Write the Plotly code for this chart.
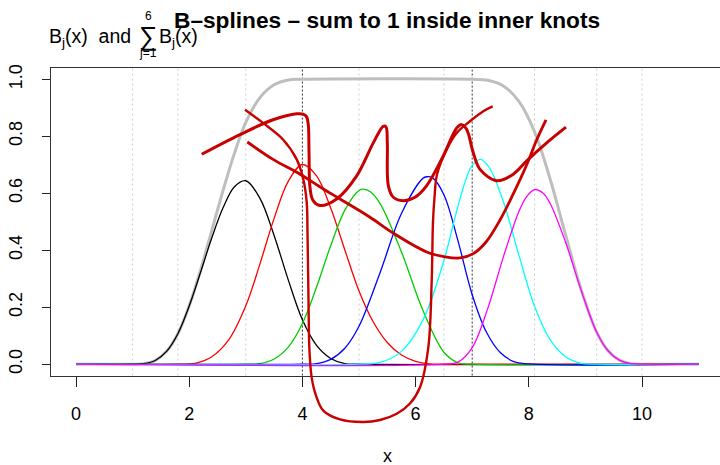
import plotly.graph_objects as go

W, H = 720, 465
FONT = "Liberation Sans, Arial, Helvetica, sans-serif"

# knot positions (inner knots marked in black)
knots = [1.0, 1.8, 3.0, 4.0, 5.0, 6.5, 7.0, 8.1, 9.2, 10.0]
inner_knots = [4.0, 7.0]

# cubic B-spline basis functions B1..B6
b1_x = [0, 1.0, 1.2, 1.4, 1.6, 1.8, 2.0, 2.2, 2.4, 2.6, 2.8, 3.0, 3.25, 3.5, 3.75, 4.0, 4.25, 4.5, 4.75, 5.0, 11]
b1_y = [0, 0, 0.002, 0.013, 0.045, 0.107, 0.204, 0.322, 0.444, 0.550, 0.623, 0.644, 0.582, 0.452, 0.296, 0.156, 0.066, 0.020, 0.002, 0, 0]

b2_x = [0, 1.8, 2.1, 2.4, 2.7, 3.0, 3.25, 3.5, 3.75, 4.0, 4.25, 4.5, 4.75, 5.0, 5.25, 5.5, 5.75, 6.0, 6.25, 6.5, 11]
b2_y = [0, 0, 0.003, 0.026, 0.086, 0.205, 0.352, 0.512, 0.642, 0.701, 0.661, 0.548, 0.401, 0.257, 0.149, 0.076, 0.032, 0.010, 0.001, 0, 0]

b3_x = [0, 3.0, 3.25, 3.5, 3.75, 4.0, 4.25, 4.5, 4.75, 5.0, 5.1, 5.2, 5.375, 5.75, 6.125, 6.5, 6.75, 7.0, 11]
b3_y = [0, 0, 0.002, 0.018, 0.060, 0.143, 0.271, 0.416, 0.541, 0.610, 0.614, 0.605, 0.563, 0.394, 0.191, 0.042, 0.005, 0, 0]

b4_x = [0, 4.0, 4.25, 4.5, 4.75, 5.0, 5.375, 5.75, 6.125, 6.2, 6.3, 6.5, 6.75, 7.0, 7.25, 7.5, 7.75, 8.1, 11]
b4_y = [0, 0, 0.002, 0.017, 0.056, 0.133, 0.323, 0.529, 0.652, 0.658, 0.654, 0.595, 0.432, 0.244, 0.113, 0.040, 0.008, 0, 0]

b5_x = [0, 5.0, 5.375, 5.75, 6.125, 6.5, 6.6, 6.75, 6.9, 7.0, 7.15, 7.3, 7.55, 7.825, 8.1, 8.375, 8.65, 8.925, 9.2, 11]
b5_y = [0, 0, 0.006, 0.045, 0.153, 0.363, 0.439, 0.556, 0.655, 0.698, 0.719, 0.691, 0.571, 0.383, 0.204, 0.086, 0.026, 0.003, 0, 0]

b6_x = [0, 6.5, 6.75, 7.0, 7.275, 7.55, 7.825, 7.95, 8.1, 8.25, 8.375, 8.65, 8.925, 9.2, 9.4, 9.6, 9.8, 10.0, 11]
b6_y = [0, 0, 0.007, 0.058, 0.196, 0.376, 0.536, 0.585, 0.613, 0.601, 0.565, 0.428, 0.259, 0.112, 0.047, 0.014, 0.002, 0, 0]

# sum of the six basis functions
sum_x = [0, 1.0, 1.2, 1.4, 1.6, 1.8, 2.0, 2.2, 2.4, 2.6, 2.8, 3.0, 3.25, 3.5, 3.75, 4.0,
         7.0, 7.275, 7.55, 7.825, 8.1, 8.375, 8.65, 8.925, 9.2, 9.4, 9.6, 9.8, 10.0, 11]
sum_y = [0, 0, 0.002, 0.013, 0.045, 0.107, 0.205, 0.330, 0.470, 0.611, 0.741, 0.849, 0.936, 0.981, 0.998, 1.0,
         1.0, 0.997, 0.977, 0.923, 0.817, 0.651, 0.454, 0.262, 0.112, 0.047, 0.014, 0.002, 0, 0]

# freehand strokes drawn over the basis
stroke_a_x = [2.221, 2.898, 3.481, 3.899, 4.011, 4.072, 4.104, 4.117, 4.134, 4.187, 4.311, 4.606, 4.959,
              5.253, 5.429, 5.477, 5.500, 5.518, 5.606, 5.783, 5.989, 6.196, 6.489, 6.726, 6.814, 6.903,
              7.019, 7.138, 7.433, 7.726, 7.963, 8.316, 8.657]
stroke_a_y = [0.737, 0.806, 0.858, 0.879, 0.878, 0.869, 0.840, 0.742, 0.621, 0.575, 0.557, 0.580, 0.661,
              0.777, 0.835, 0.833, 0.777, 0.627, 0.586, 0.574, 0.586, 0.627, 0.731, 0.829, 0.841, 0.824,
              0.742, 0.684, 0.644, 0.667, 0.714, 0.777, 0.832]

stroke_c_x = [2.986, 3.304, 3.657, 3.899, 4.016, 4.076, 4.090, 4.108, 4.125, 4.164, 4.240, 4.369, 4.664,
              5.076, 5.371, 5.666, 5.901, 6.078, 6.224, 6.284, 6.307, 6.334, 6.378, 6.549, 6.726, 6.961,
              7.196, 7.362]
stroke_c_y = [0.893, 0.847, 0.789, 0.719, 0.649, 0.568, 0.464, 0.220, 0.046, -0.047, -0.110, -0.163, -0.194,
              -0.203, -0.196, -0.174, -0.138, -0.081, 0.058, 0.290, 0.499, 0.586, 0.666, 0.754, 0.812, 0.853,
              0.888, 0.905]

stroke_d_x = [3.027, 3.481, 3.958, 4.369, 4.664, 5.194, 5.606, 6.196, 6.519, 6.784, 7.019, 7.244, 7.491,
              7.721, 7.963, 8.140, 8.304]
stroke_d_y = [0.780, 0.719, 0.667, 0.615, 0.580, 0.516, 0.460, 0.394, 0.377, 0.373, 0.388, 0.429, 0.506,
              0.596, 0.700, 0.788, 0.858]

basis = [
    ("B1", b1_x, b1_y, "#000000"),
    ("B2", b2_x, b2_y, "#FF0000"),
    ("B3", b3_x, b3_y, "#00CD00"),
    ("B4", b4_x, b4_y, "#0000FF"),
    ("B5", b5_x, b5_y, "#00FFFF"),
    ("B6", b6_x, b6_y, "#FF00FF"),
]
strokes = [
    (stroke_a_x, stroke_a_y, 3.0),
    (stroke_d_x, stroke_d_y, 2.8),
    (stroke_c_x, stroke_c_y, 2.4),
]

# axis geometry
x_range = [-0.44, 11.378]
y_range = [-0.04, 1.04]
x_dom = [51.1 / W, 1.0]
y_dom = [(H - 374.8) / H, (H - 64.5) / H]


def full_range(rng, dom, size):
    """Range for an axis spanning the whole figure with the same scale."""
    ppu = (dom[1] - dom[0]) * size / (rng[1] - rng[0])
    return [rng[0] - dom[0] * size / ppu, rng[1] + (1 - dom[1]) * size / ppu]


fig = go.Figure()

fig.add_trace(go.Scatter(x=sum_x, y=sum_y, mode="lines", line=dict(color="#BEBEBE", width=3, shape="spline"),
                         xaxis="x", yaxis="y", hoverinfo="skip"))
for name, xs, ys, col in basis:
    fig.add_trace(go.Scatter(x=xs, y=ys, mode="lines", name=name,
                             line=dict(color=col, width=1.3, shape="spline"),
                             xaxis="x", yaxis="y"))
# strokes live on a full-figure overlay so they are not clipped by the frame
for xs, ys, w in strokes:
    fig.add_trace(go.Scatter(x=xs, y=ys, mode="lines",
                             line=dict(color="#C80000", width=w, shape="spline", smoothing=1.0),
                             xaxis="x2", yaxis="y2", hoverinfo="skip"))

shapes = []
for k in knots:
    inner = k in inner_knots
    shapes.append(dict(type="line", xref="x", yref="y domain", x0=k, x1=k, y0=0, y1=1,
                       line=dict(color="#333333" if inner else "#CDCDCD", width=1,
                                 dash="2px,2px" if inner else "2px,3px"),
                       layer="below"))


def label(text, px, py, size, anchor="center", bold=False):
    if bold:
        text = "<b>" + text + "</b>"
    return dict(text=text, x=px / W, y=1 - py / H, xref="paper", yref="paper", showarrow=False,
                xanchor=anchor, yanchor="middle", font=dict(size=size, family=FONT, color="#000"))


ann = [
    label("B–splines – sum to 1 inside inner knots", 387.3, 16.5, 22.7, bold=True),
    label("x", 387.3, 456, 18),
    label("B<sub>j</sub>(x)  and", 47, 34, 19.5, anchor="left"),
    label("∑", 148, 32, 26),
    label("6", 148, 12.5, 12),
    label("j=1", 148, 49, 12),
    label("B<sub>j</sub>(x)", 157, 34, 19.5, anchor="left"),
]

fig.update_layout(
    width=W, height=H, autosize=False,
    margin=dict(l=0, r=0, t=0, b=0, pad=0),
    paper_bgcolor="white", plot_bgcolor="rgba(0,0,0,0)",
    showlegend=False,
    font=dict(family=FONT, size=18, color="#000"),
    shapes=shapes, annotations=ann,
    xaxis=dict(domain=x_dom, range=x_range, anchor="y", tickvals=[0, 2, 4, 6, 8, 10],
               ticks="outside", ticklen=10, tickwidth=1.2, tickcolor="#222",
               showline=True, linecolor="#333", linewidth=1.3, mirror=True,
               showgrid=False, zeroline=False, tickfont=dict(size=18, family=FONT, color="#000"),
               ticklabelstandoff=12),
    yaxis=dict(domain=y_dom, range=y_range, anchor="x", tickvals=[0, 0.2, 0.4, 0.6, 0.8, 1.0],
               ticktext=["0.0", "0.2", "0.4", "0.6", "0.8", "1.0"], tickangle=-90,
               ticks="outside", ticklen=8, tickwidth=1.2, tickcolor="#222",
               showline=True, linecolor="#333", linewidth=1.3, mirror=False,
               showgrid=False, zeroline=False, tickfont=dict(size=18, family=FONT, color="#000"),
               ticklabelstandoff=13),
    xaxis2=dict(domain=[0, 1], range=full_range(x_range, x_dom, W), anchor="y2", visible=False),
    yaxis2=dict(domain=[0, 1], range=full_range(y_range, y_dom, H), anchor="x2", visible=False),
)

fig.write_html("out.html")
